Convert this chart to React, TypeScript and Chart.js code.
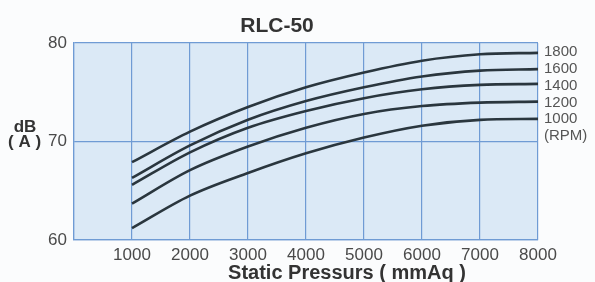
import React, { useEffect, useRef } from "react";
import { Chart, registerables } from "chart.js";

Chart.register(...registerables);

const pressures = [1000, 2000, 3000, 4000, 5000, 6000, 7000, 8000];
const rpm1800 = [67.9, 71.0, 73.5, 75.5, 77.0, 78.2, 78.85, 79.0];
const rpm1600 = [66.3, 69.6, 72.2, 74.1, 75.5, 76.6, 77.2, 77.35];
const rpm1400 = [65.6, 68.9, 71.4, 73.1, 74.4, 75.3, 75.75, 75.85];
const rpm1200 = [63.7, 67.1, 69.5, 71.4, 72.8, 73.6, 73.95, 74.05];
const rpm1000 = [61.2, 64.5, 66.8, 68.8, 70.4, 71.6, 72.2, 72.3];
const rpmLabels = ["1800", "1600", "1400", "1200", "1000", "(RPM)"];
const xTicks = [0, 1000, 2000, 3000, 4000, 5000, 6000, 7000, 8000];
const yTicks = [60, 70, 80];
const chartTitle = "RLC-50";
const xTitle = "Static Pressurs ( mmAq )";

const series = [rpm1800, rpm1600, rpm1400, rpm1200, rpm1000];

const textPlugin = {
  id: "texts",
  beforeDraw(chart: any) {
    const { ctx, chartArea } = chart;
    ctx.save();
    ctx.fillStyle = "#dbe9f6";
    ctx.fillRect(chartArea.left, chartArea.top, chartArea.right - chartArea.left, chartArea.bottom - chartArea.top);
    ctx.restore();
  },
  afterDraw(chart: any) {
    const { ctx } = chart;
    ctx.save();
    ctx.fillStyle = "#333";
    ctx.textAlign = "center";
    ctx.textBaseline = "alphabetic";
    ctx.font = "bold 21px 'Liberation Sans', Arial, sans-serif";
    ctx.fillText(chartTitle, 277, 32);
    ctx.font = "bold 20px 'Liberation Sans', Arial, sans-serif";
    ctx.fillText(xTitle, 347, 279);
    ctx.font = "bold 17px 'Liberation Sans', Arial, sans-serif";
    ctx.fillText("dB", 25, 132);
    ctx.textAlign = "left";
    ctx.fillText("( A )", 8, 147);
    ctx.font = "15px 'Liberation Sans', Arial, sans-serif";
    ctx.fillStyle = "#555";
    ctx.textBaseline = "middle";
    rpmLabels.forEach((l, i) => {
      ctx.fillText(l, 544, 52 + i * 16.8);
    });
    ctx.restore();
  },
};

export default function App() {
  const ref = useRef<HTMLCanvasElement>(null);
  useEffect(() => {
    if (!ref.current) return;
    const chart = new Chart(ref.current, {
      type: "line",
      data: {
        datasets: series.map((vals, i) => ({
          label: rpmLabels[i],
          data: pressures.map((p, j) => ({ x: p, y: vals[j] })),
          borderColor: "#2a363e",
          borderWidth: 2.6,
          pointRadius: 0,
          fill: false,
          cubicInterpolationMode: "monotone" as const,
        })),
      },
      plugins: [textPlugin],
      options: {
        animation: false,
        responsive: false,
        maintainAspectRatio: false,
        layout: { padding: { left: 0, top: 43, right: 57, bottom: 0 } },
        plugins: { legend: { display: false }, tooltip: { enabled: false }, title: { display: false } },
        scales: {
          x: {
            type: "linear",
            min: 0,
            max: 8000,
            afterBuildTicks: (scale: any) => {
              scale.ticks = xTicks.map((v) => ({ value: v }));
            },
            afterFit: (scale: any) => {
              scale.height = 42;
            },
            grid: { color: "#6f9bd4", lineWidth: 1.2, drawTicks: false },
            border: { color: "#6f9bd4", width: 1.2 },
            ticks: {
              padding: 5,
              color: "#4a4a4a",
              font: { family: "'Liberation Sans', Arial, sans-serif", size: 17 },
              callback: (v: any) => (v === 0 ? "" : String(v)),
              maxRotation: 0,
              autoSkip: false,
            },
          },
          y: {
            type: "linear",
            min: 60,
            max: 80,
            afterBuildTicks: (scale: any) => {
              scale.ticks = yTicks.map((v) => ({ value: v }));
            },
            afterFit: (scale: any) => {
              scale.width = 74;
            },
            grid: { color: "#6f9bd4", lineWidth: 1.2, drawTicks: false },
            border: { color: "#6f9bd4", width: 1.2 },
            ticks: {
              padding: 7,
              color: "#4a4a4a",
              font: { family: "'Liberation Sans', Arial, sans-serif", size: 17 },
            },
          },
        },
      },
    });
    return () => chart.destroy();
  }, []);
  return (
    <div style={{ position: "fixed", left: 0, top: 0, width: 595, height: 282, background: "#fbfcfd" }}>
      <canvas ref={ref} width={595} height={282} style={{ width: 595, height: 282 }} />
    </div>
  );
}
